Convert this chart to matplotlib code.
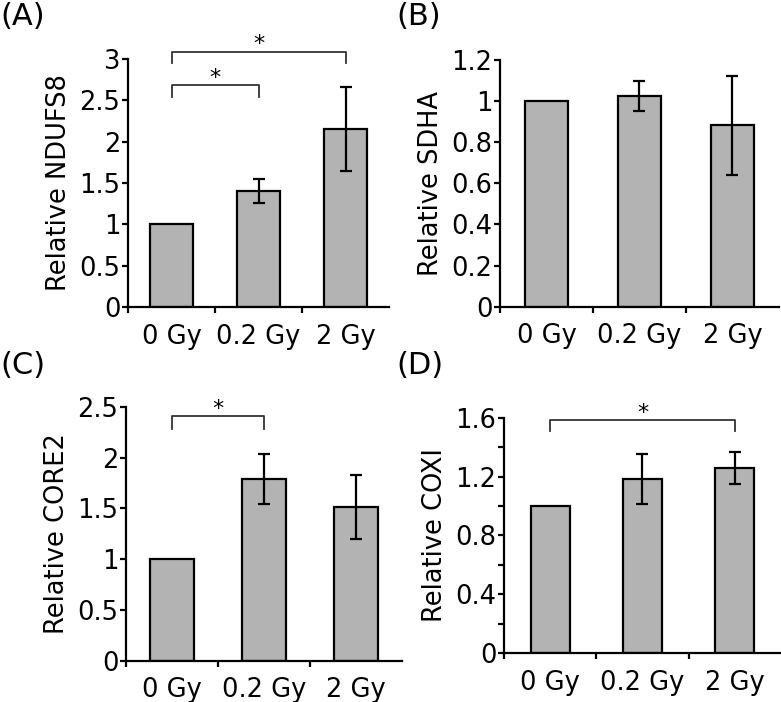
import matplotlib
matplotlib.use("Agg")
import matplotlib.pyplot as plt
from matplotlib.ticker import FixedLocator

plt.rcParams['font.family'] = ['DejaVu Sans']

categories = ["0 Gy", "0.2 Gy", "2 Gy"]

panel_letters = ["(A)", "(B)", "(C)", "(D)"]
ylabels = ["Relative NDUFS8", "Relative SDHA", "Relative CORE2", "Relative COXI"]

values_A = [1.0, 1.40, 2.15]
errors_A = [0.0, 0.145, 0.51]
values_B = [1.0, 1.026, 0.882]
errors_B = [0.0, 0.073, 0.241]
values_C = [1.0, 1.785, 1.515]
errors_C = [0.0, 0.245, 0.315]
values_D = [1.0, 1.183, 1.26]
errors_D = [0.0, 0.17, 0.11]

yticks_A = [0, 0.5, 1, 1.5, 2, 2.5, 3]
yticklabels_A = ["0", "0.5", "1", "1.5", "2", "2.5", "3"]
yticks_B = [0, 0.2, 0.4, 0.6, 0.8, 1.0, 1.2]
yticklabels_B = ["0", "0.2", "0.4", "0.6", "0.8", "1", "1.2"]
yticks_C = [0, 0.5, 1, 1.5, 2, 2.5]
yticklabels_C = ["0", "0.5", "1", "1.5", "2", "2.5"]
yticks_D = [0, 0.4, 0.8, 1.2, 1.6]
yticklabels_D = ["0", "0.4", "0.8", "1.2", "1.6"]
yminor_D = [0.2, 0.6, 1.0, 1.4]

# significance brackets: (from index, to index, line height, leg bottom)
sig_A = [(0, 1, 2.685, 2.544), (0, 2, 3.09, 2.95)]
sig_B = []
sig_C = [(0, 1, 2.41, 2.277)]
sig_D = [(0, 2, 1.581, 1.509)]

panels = [
    dict(vals=values_A, errs=errors_A, yt=yticks_A, ytl=yticklabels_A, ymin=[], sig=sig_A,
         ylim=3.0, pos=[0.1639, 0.5627, 0.3342, 0.3533], bw=0.50, lab=(0.0, 0.997)),
    dict(vals=values_B, errs=errors_B, yt=yticks_B, ytl=yticklabels_B, ymin=[], sig=sig_B,
         ylim=1.2, pos=[0.6402, 0.5631, 0.3572, 0.3514], bw=0.47, lab=(0.508, 0.997)),
    dict(vals=values_C, errs=errors_C, yt=yticks_C, ytl=yticklabels_C, ymin=[], sig=sig_C,
         ylim=2.5, pos=[0.1613, 0.0588, 0.3534, 0.3618], bw=0.47, lab=(0.0, 0.500)),
    dict(vals=values_D, errs=errors_D, yt=yticks_D, ytl=yticklabels_D, ymin=yminor_D, sig=sig_D,
         ylim=1.6, pos=[0.6453, 0.0694, 0.3547, 0.3356], bw=0.42, lab=(0.508, 0.500)),
]

fig = plt.figure(figsize=(7.81, 7.02), dpi=100)

x = list(range(len(categories)))
for i, p in enumerate(panels):
    ax = fig.add_axes(p['pos'])
    ax.bar(x, p['vals'], width=p['bw'], color='#b3b3b3', edgecolor='black',
           linewidth=1.6, zorder=2)
    xe = [xi for xi, e in zip(x, p['errs']) if e > 0]
    ve = [v for v, e in zip(p['vals'], p['errs']) if e > 0]
    ee = [e for e in p['errs'] if e > 0]
    ax.errorbar(xe, ve, yerr=ee, fmt='none', ecolor='black', elinewidth=1.6,
                capsize=4.5, capthick=1.6, zorder=3)
    ax.set_xlim(-0.5, 2.5)
    ax.set_ylim(0, p['ylim'])
    for s in ['top', 'right']:
        ax.spines[s].set_visible(False)
    for s in ['left', 'bottom']:
        ax.spines[s].set_linewidth(1.6)
    ax.xaxis.set_major_locator(FixedLocator([-0.5, 0.5, 1.5]))
    ax.xaxis.set_minor_locator(FixedLocator(x))
    ax.set_xticklabels([])
    ax.set_xticklabels(categories, minor=True)
    ax.tick_params(axis='x', which='major', direction='out', length=4, width=1.6)
    ax.tick_params(axis='x', which='minor', length=0, pad=12, labelsize=18.5)
    ax.set_yticks(p['yt'])
    ax.set_yticklabels(p['ytl'])
    if p['ymin']:
        ax.yaxis.set_minor_locator(FixedLocator(p['ymin']))
    ax.tick_params(axis='y', which='both', direction='out', length=4, width=1.6,
                   pad=1.5, labelsize=18.5)
    ax.set_ylabel(ylabels[i], fontsize=18.5, labelpad=5)
    for (a, b, h, low) in p['sig']:
        ax.plot([a, a, b, b], [low, h, h, low], color='#333333', lw=1.3,
                clip_on=False, zorder=4)
        ax.text((a + b) / 2, h + 0.005 * p['ylim'], '*', ha='center', va='baseline',
                fontsize=16, clip_on=False)
    fig.text(p['lab'][0], p['lab'][1], panel_letters[i], fontsize=22,
             ha='left', va='top')

fig.savefig('out.png', dpi=100)
